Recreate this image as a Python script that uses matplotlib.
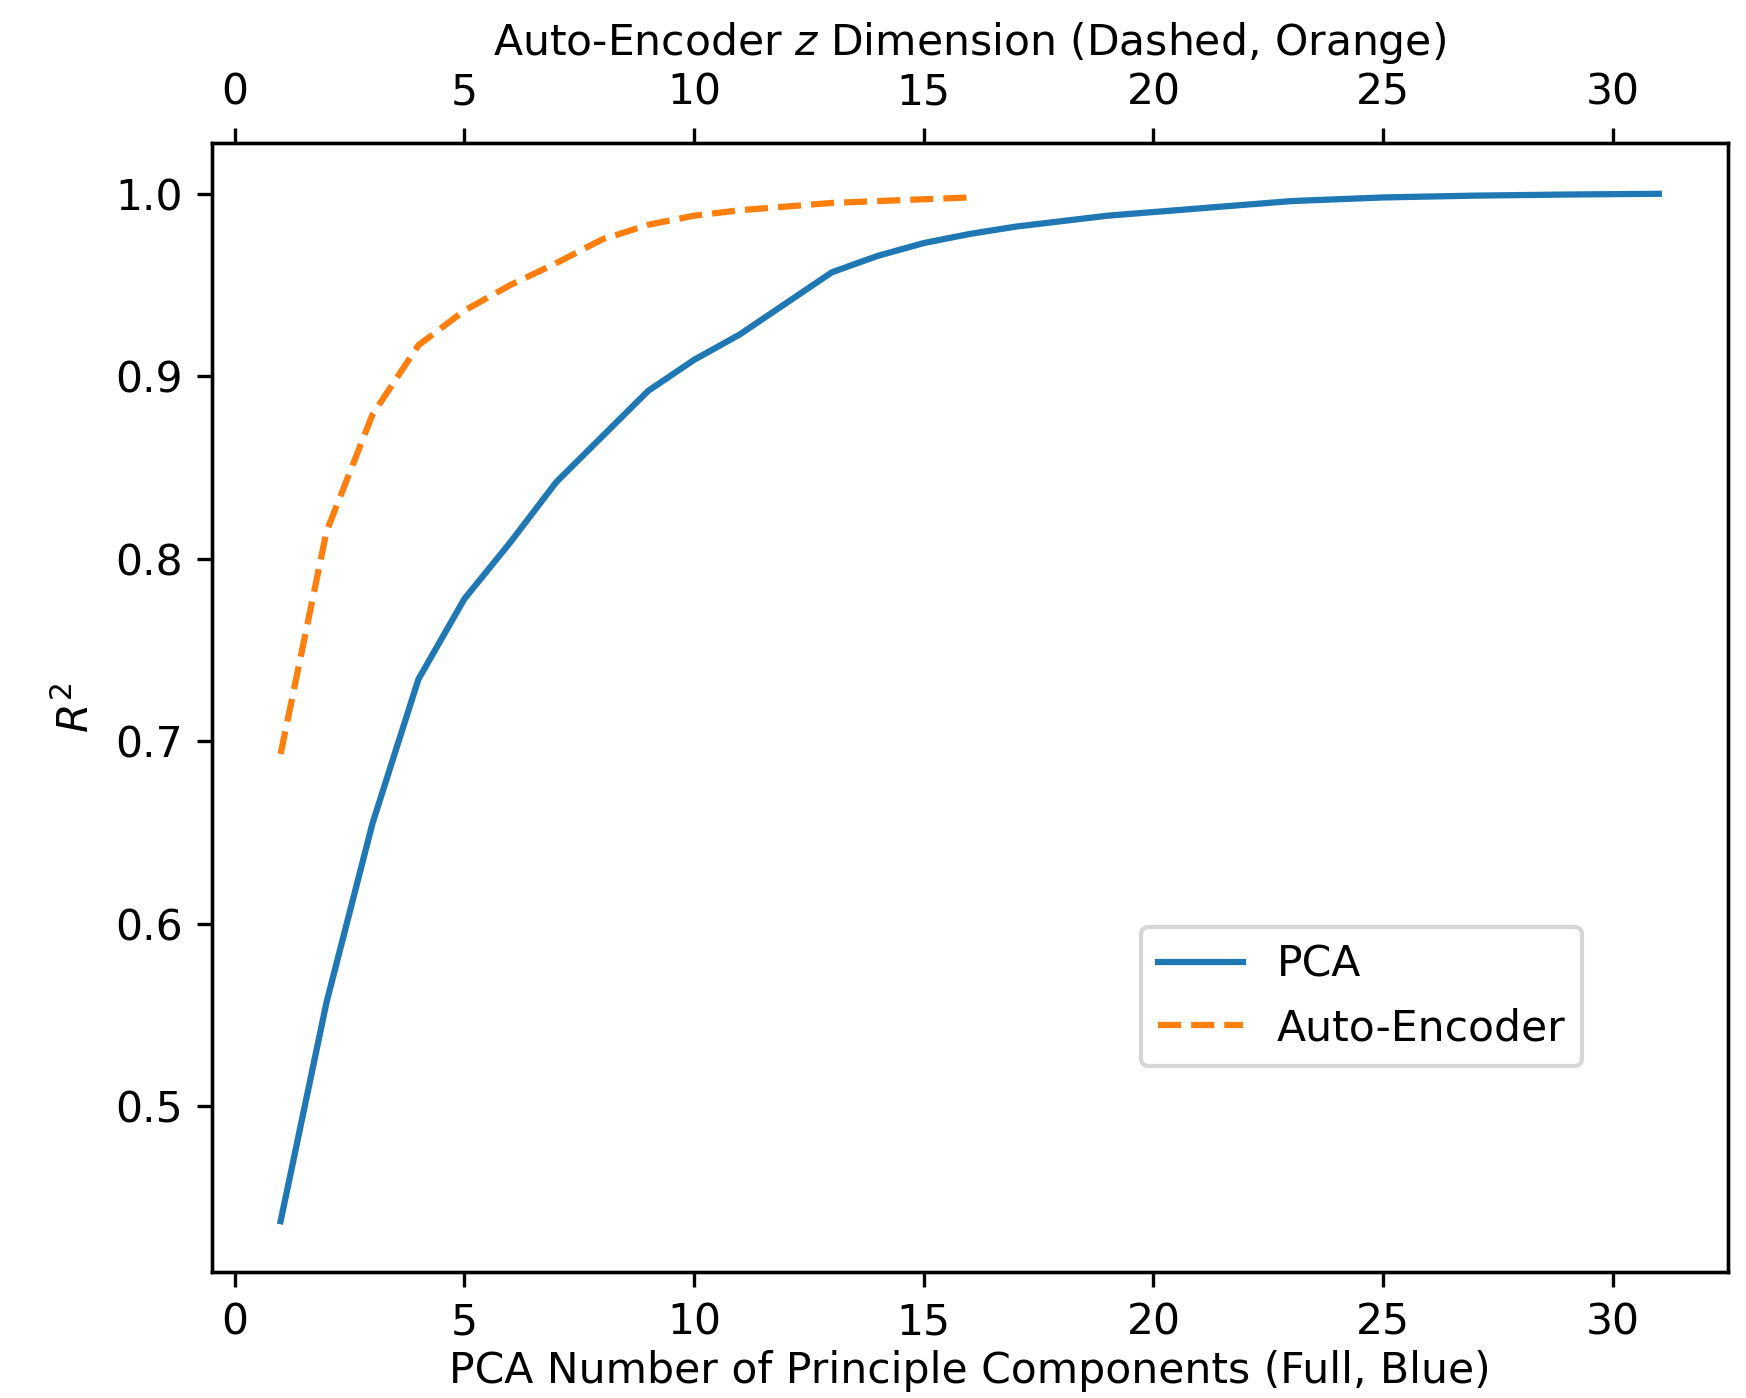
import matplotlib
matplotlib.use("Agg")
import matplotlib.pyplot as plt

# PCA: number of principal components vs R^2
pca_components = list(range(1, 32))
pca_r2 = [0.437, 0.557, 0.655, 0.734, 0.778, 0.809, 0.842, 0.867, 0.892, 0.909,
          0.923, 0.940, 0.957, 0.966, 0.973, 0.978, 0.982, 0.985, 0.988, 0.990,
          0.992, 0.994, 0.996, 0.997, 0.998, 0.9985, 0.999, 0.9993, 0.9996, 0.9998, 1.000]

# Auto-encoder: z dimension vs R^2
ae_dims = list(range(1, 17))
ae_r2 = [0.693, 0.815, 0.879, 0.917, 0.936, 0.950, 0.962, 0.975, 0.983, 0.988,
         0.991, 0.993, 0.995, 0.996, 0.997, 0.998]

xticks = [0, 5, 10, 15, 20, 25, 30]
yticks = [0.5, 0.6, 0.7, 0.8, 0.9, 1.0]

plt.rcParams["font.size"] = 10.2

W, H, DPI = 1746, 1398, 300
fig = plt.figure(figsize=(W / DPI, H / DPI), dpi=DPI)
left, right, top, bottom = 211.7, 1727.7, 142.7, 1272.3
ax = fig.add_axes([left / W, 1 - bottom / H, (right - left) / W, (bottom - top) / H])

l1, = ax.plot(pca_components, pca_r2, color="#1f77b4", lw=1.5, label="PCA")
ax.set_xlabel("PCA Number of Principle Components (Full, Blue)", labelpad=1.5)
ax.set_ylabel("$R^2$")
ax.set_xticks(xticks)
ax.set_yticks(yticks)

ax2 = ax.twiny()
l2, = ax2.plot(ae_dims, ae_r2, color="#ff7f0e", lw=1.5, ls="--", label="Auto-Encoder")
ax2.set_xlabel("Auto-Encoder $z$ Dimension (Dashed, Orange)")

ax.set_xlim(-0.5, 32.5)
ax2.set_xlim(ax.get_xlim())
ax2.set_xticks(xticks)
ax.set_ylim(0.409, 1.028)

ax.legend(handles=[l1, l2], loc="lower left",
          bbox_to_anchor=(0.6128, 0.1826), borderaxespad=0)

fig.savefig("out.png", dpi=DPI)
